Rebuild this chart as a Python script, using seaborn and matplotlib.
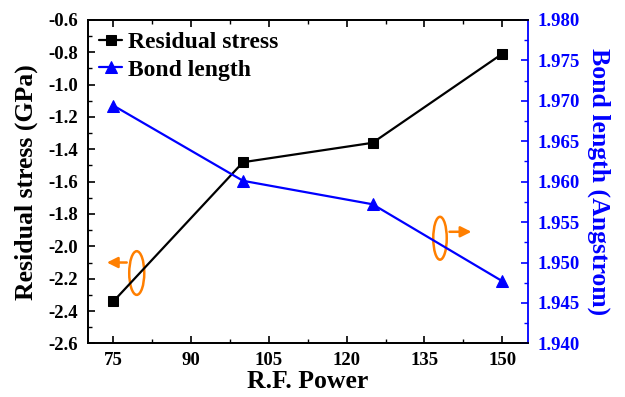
import matplotlib
matplotlib.use("Agg")
import matplotlib.pyplot as plt
from matplotlib.patches import Ellipse
import pandas as pd
import seaborn as sns

power = [75, 100, 125, 150]
residual_stress = [-2.34, -1.48, -1.36, -0.81]
bond_length = [1.9694, 1.9601, 1.9572, 1.9477]

x_ticks = [75, 90, 105, 120, 135, 150]
left_ticks = [-2.6, -2.4, -2.2, -2.0, -1.8, -1.6, -1.4, -1.2, -1.0, -0.8, -0.6]
right_ticks = [1.940, 1.945, 1.950, 1.955, 1.960, 1.965, 1.970, 1.975, 1.980]

df = pd.DataFrame({"power": power, "stress": residual_stress, "bond": bond_length})

sns.set_style("ticks")
plt.rcParams['font.family'] = ['Liberation Serif', 'DejaVu Serif']
plt.rcParams['font.weight'] = 'bold'
plt.rcParams['text.color'] = 'black'
plt.rcParams['axes.labelcolor'] = 'black'
plt.rcParams['xtick.color'] = 'black'
plt.rcParams['ytick.color'] = 'black'
plt.rcParams['axes.edgecolor'] = 'black'
plt.rcParams['axes.unicode_minus'] = False

fig, ax = plt.subplots(figsize=(6.25, 3.97), dpi=100)
ax2 = ax.twinx()

sns.lineplot(data=df, x="power", y="stress", ax=ax, color="black", marker="s",
             markersize=7, markeredgecolor="black", linewidth=1.6, label="Residual stress", legend=False)
sns.lineplot(data=df, x="power", y="bond", ax=ax2, color="blue", marker="^",
             markersize=9, markeredgecolor="blue", linewidth=1.6, label="Bond length", legend=False)

ax.set_xlim(70, 155)
ax.set_ylim(-2.6, -0.6)
ax2.set_ylim(1.940, 1.980)
ax.set_xticks(x_ticks)
ax.set_yticks(left_ticks)
ax.set_yticklabels([f"{v:.1f}" for v in left_ticks])
ax2.set_yticks(right_ticks)
ax2.set_yticklabels([f"{v:.3f}" for v in right_ticks])
ax.set_xticks([82.5, 97.5, 112.5, 127.5, 142.5], minor=True)
ax.set_yticks([v + 0.1 for v in left_ticks[:-1]], minor=True)
ax2.set_yticks([v + 0.0025 for v in right_ticks[:-1]], minor=True)

ax.set_xlabel("R.F. Power", fontsize=18.5, fontweight="bold", labelpad=1)
ax.set_ylabel("Residual stress (GPa)", fontsize=18.5, fontweight="bold", labelpad=7)
ax2.set_ylabel("Bond length (Angstrom)", fontsize=18.5, fontweight="bold", color="blue",
               rotation=270, va="bottom", labelpad=5)

ax.tick_params(axis="both", which="both", direction="in", top=True, labelsize=13.5)
ax.tick_params(axis="y", which="both", right=False)
ax.tick_params(which="major", length=5, width=1.2, pad=7)
ax.tick_params(axis="x", which="major", pad=6)
ax.tick_params(which="minor", length=3, width=1.0)
ax2.tick_params(axis="y", which="both", direction="in", colors="blue", labelsize=13.5)
ax2.tick_params(which="major", length=5, width=1.2, pad=7)
ax2.tick_params(which="minor", length=3, width=1.0)
for lab in ax.get_xticklabels() + ax.get_yticklabels() + ax2.get_yticklabels():
    lab.set_fontweight("bold")

for s in ["left", "top", "bottom"]:
    ax.spines[s].set_linewidth(1.3)
    ax2.spines[s].set_linewidth(1.3)
ax2.spines["right"].set_color("blue")
ax2.spines["right"].set_linewidth(1.3)
ax.spines["right"].set_visible(False)

h1, l1 = ax.get_legend_handles_labels()
h2, l2 = ax2.get_legend_handles_labels()
ax.legend(h1 + h2, l1 + l2, loc="upper left", frameon=False,
          handlelength=0.95, handletextpad=0.25, borderaxespad=0.2, labelspacing=0.25,
          borderpad=0.3, prop={"weight": "bold", "size": 17})

orange = "#ff7f00"
ax.add_patch(Ellipse((79.5, -2.165), 2.9, 0.27, fill=False, edgecolor=orange, linewidth=1.8))
ax.annotate("", xy=(73.2, -2.10), xytext=(78.1, -2.10),
            arrowprops=dict(arrowstyle="-|>", color=orange, lw=1.8, mutation_scale=16))
ax2.add_patch(Ellipse((138.0, 1.9530), 2.6, 0.0053, fill=False, edgecolor=orange, linewidth=1.8))
ax2.annotate("", xy=(144.6, 1.9538), xytext=(139.3, 1.9538),
             arrowprops=dict(arrowstyle="-|>", color=orange, lw=1.8, mutation_scale=16))

fig.subplots_adjust(left=0.14, right=0.845, top=0.95, bottom=0.135)
fig.savefig("out.png", dpi=100)
